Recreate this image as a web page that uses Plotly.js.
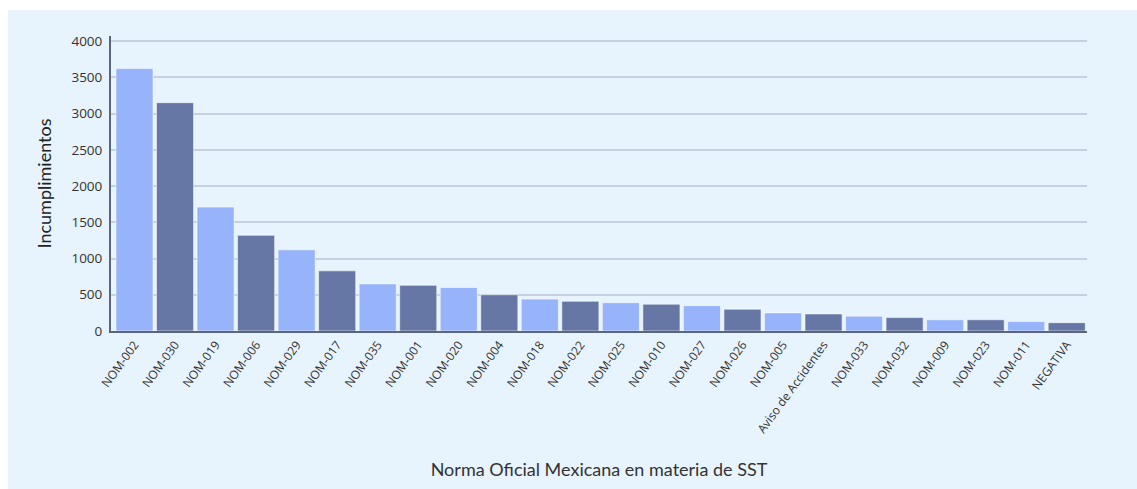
<!DOCTYPE html>
<html>
<head>
<meta charset="utf-8">
<script src="https://cdn.plot.ly/plotly-3.0.1.min.js"></script>
<style>
  html, body { margin: 0; padding: 0; background: #ffffff; width: 1137px; height: 489px; overflow: hidden; }
  #chart { position: absolute; left: 8px; top: 10px; width: 1129px; height: 479px; }
</style>
</head>
<body>
<div id="chart"></div>
<script>
const categories = ["NOM-002", "NOM-030", "NOM-019", "NOM-006", "NOM-029", "NOM-017", "NOM-035", "NOM-001",
  "NOM-020", "NOM-004", "NOM-018", "NOM-022", "NOM-025", "NOM-010", "NOM-027", "NOM-026", "NOM-005",
  "Aviso de Accidentes", "NOM-033", "NOM-032", "NOM-009", "NOM-023", "NOM-011", "NEGATIVA"];
const incumplimientos = [3620, 3150, 1710, 1320, 1120, 830, 650, 630, 600, 500, 440, 410, 390, 370, 350, 300,
  250, 235, 205, 185, 155, 155, 130, 115];
const yTickVals = [0, 500, 1000, 1500, 2000, 2500, 3000, 3500, 4000];

const lightBar = "#97b3f9";
const darkBar = "#6677a6";
const barColors = categories.map((c, i) => (i % 2 === 0 ? lightBar : darkBar));

const trace = {
  type: "bar",
  x: categories,
  y: incumplimientos,
  marker: { color: barColors, line: { color: "rgba(255,255,255,0.55)", width: 1 } },
  hoverinfo: "x+y"
};

const layout = {
  width: 1129,
  height: 479,
  paper_bgcolor: "#e8f4fd",
  plot_bgcolor: "#e8f4fd",
  margin: { l: 103, r: 50, t: 26, b: 158 },
  bargap: 0.085,
  showlegend: false,
  font: { family: "'Open Sans', sans-serif", color: "#333333" },
  xaxis: {
    type: "category",
    range: [-0.58, 23.5],
    tickangle: -54,
    tickfont: { size: 12, color: "#333333", family: "'Open Sans', sans-serif" },
    showline: true,
    linecolor: "#5b6582",
    linewidth: 2,
    ticks: "",
    showgrid: false,
    title: {
      text: "Norma Oficial Mexicana en materia de SST",
      font: { size: 18, color: "#333333", family: "Lato, 'Open Sans', sans-serif" },
      standoff: 28
    }
  },
  yaxis: {
    range: [0, 4070],
    tickvals: yTickVals,
    ticktext: yTickVals.map(String),
    tickfont: { size: 13.5, color: "#333333", family: "'Open Sans', sans-serif" },
    showline: true,
    linecolor: "#5b6582",
    linewidth: 2,
    ticks: "",
    ticklabelstandoff: 4,
    showgrid: true,
    gridcolor: "#c7cfe2",
    gridwidth: 2,
    zeroline: false,
    title: {
      text: "Incumplimientos",
      font: { size: 18, color: "#222222", family: "Lato, 'Open Sans', sans-serif" },
      standoff: 15
    }
  }
};

Plotly.newPlot("chart", [trace], layout, { displayModeBar: false, staticPlot: true });
</script>
</body>
</html>
